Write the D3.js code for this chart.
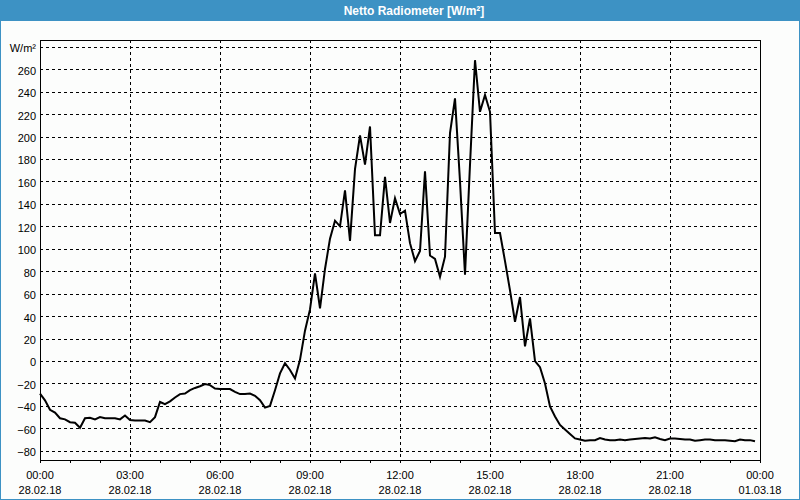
<!DOCTYPE html>
<html>
<head>
<meta charset="utf-8">
<script src="https://cdn.jsdelivr.net/npm/d3@7"></script>
<style>
  html, body { margin: 0; padding: 0; background: #fcfdfc; }
  svg { display: block; }
  text { font-family: "Liberation Sans", Arial, sans-serif; }
</style>
</head>
<body>
<svg id="chart" width="800" height="500"></svg>
<script>
// ---- data (10-minute samples, 28.02.18 00:00 .. 23:50) ----
const title = "Netto Radiometer [W/m²]";
const unitLabel = "W/m²";
const startTime = "2018-02-28T00:00:00";
const endTime = "2018-03-01T00:00:00";
const stepMinutes = 10;
const values = [
  -29, -35, -43.5, -46, -51, -52, -54.5, -55, -59.5, -51,
  -50.5, -52, -50, -51, -51, -51, -52, -48.5, -52.5, -53,
  -53, -53, -54.5, -50, -36.5, -38.5, -36, -32.5, -29.5, -29,
  -26, -24, -22.5, -20.5, -21.5, -24.5, -25, -25, -25, -27.5,
  -29.5, -29.5, -29, -31, -35, -41.5, -40, -26, -11, -2,
  -8, -15.5, 1, 27, 46, 78, 47, 82, 109, 125,
  120, 152, 107, 171, 201, 175, 209, 112, 112, 164,
  123, 145, 131, 134, 105, 89, 98, 169, 94, 91,
  75, 93, 203, 234, 160, 77, 175, 268, 222, 237,
  222, 114, 114, 89, 63, 35, 57, 13, 38, 0,
  -5.5, -20, -40.5, -49.5, -57, -61, -65, -69, -70, -71,
  -70.5, -70.5, -68.6, -70, -70.5, -70.5, -70, -70.5, -70, -69.5,
  -69, -68.7, -69, -68, -69.5, -70.5, -69, -69, -69.5, -70,
  -70, -71, -70.5, -70, -70, -70.5, -70.5, -70.5, -71, -71.5,
  -70, -70.5, -70.5, -71.5
];
const yTicks = [-80, -60, -40, -20, 0, 20, 40, 60, 80, 100, 120, 140, 160, 180, 200, 220, 240, 260, 280];
const xTickLabels = [
  ["00:00", "28.02.18"], ["03:00", "28.02.18"], ["06:00", "28.02.18"],
  ["09:00", "28.02.18"], ["12:00", "28.02.18"], ["15:00", "28.02.18"],
  ["18:00", "28.02.18"], ["21:00", "28.02.18"], ["00:00", "01.03.18"]
];

// ---- layout ----
const W = 800, H = 500;
const plot = { left: 40, top: 40, right: 760, bottom: 460 };
const blue = "#3d92c4";

const svg = d3.select("#chart");
const t0 = new Date(startTime), t1 = new Date(endTime);
const data = values.map((v, i) => ({ t: new Date(t0.getTime() + i * stepMinutes * 60000), v }));

const x = d3.scaleTime().domain([t0, t1]).range([plot.left, plot.right]);
const y = d3.scaleLinear().domain([-88.2, 286]).range([plot.bottom, plot.top]);

// background
svg.append("rect").attr("x", 0).attr("y", 0).attr("width", W).attr("height", H).attr("fill", "#fcfdfc");

// title bar
svg.append("rect").attr("x", 0).attr("y", 0).attr("width", W).attr("height", 21).attr("fill", blue);
svg.append("text").attr("x", 414).attr("y", 15).attr("text-anchor", "middle")
  .attr("fill", "#ffffff").attr("font-weight", "bold").attr("font-size", "12px").text(title);

// window frame
svg.append("rect").attr("x", 0.5).attr("y", 0.5).attr("width", W - 1).attr("height", H - 1)
  .attr("fill", "none").attr("stroke", blue).attr("stroke-width", 1);

// horizontal gridlines
const threeHours = d3.range(1, 8).map(k => d3.timeHour.offset(t0, 3 * k));
const grid = svg.append("g").attr("shape-rendering", "crispEdges");
grid.selectAll("line.h").data(yTicks).join("line")
  .attr("x1", plot.left).attr("x2", plot.right)
  .attr("y1", d => Math.round(y(d)) + 0.5).attr("y2", d => Math.round(y(d)) + 0.5)
  .attr("stroke", "#000").attr("stroke-width", 1).attr("stroke-dasharray", "3,3");
grid.selectAll("line.v").data(threeHours).join("line")
  .attr("x1", d => Math.round(x(d)) + 0.5).attr("x2", d => Math.round(x(d)) + 0.5)
  .attr("y1", plot.top).attr("y2", plot.bottom)
  .attr("stroke", "#000").attr("stroke-width", 1).attr("stroke-dasharray", "3,3");

// y axis labels
const yAxis = d3.axisLeft(y).tickValues(yTicks).tickSize(0).tickPadding(4)
  .tickFormat(d => d === 280 ? unitLabel : d3.format("d")(d));
const gy = svg.append("g").attr("transform", `translate(${plot.left},0)`).call(yAxis);
gy.select(".domain").remove();
gy.selectAll("text").attr("font-size", "11px").attr("fill", "#000")
  .attr("font-family", "'Liberation Sans', Arial, sans-serif").attr("dy", "0.45em");

// x axis: hourly minor ticks
const hours = d3.timeHour.range(t0, d3.timeHour.offset(t1, 1));
const xAxis = d3.axisBottom(x).tickValues(hours).tickSize(3).tickFormat("");
const gx = svg.append("g").attr("transform", `translate(0,${plot.bottom})`).attr("shape-rendering", "crispEdges").call(xAxis);
gx.select(".domain").remove();
gx.selectAll("line").attr("stroke", "#000");

// x labels (two lines)
const labelTimes = d3.range(0, 9).map(k => d3.timeHour.offset(t0, 3 * k));
const xl = svg.append("g").selectAll("g").data(labelTimes).join("g");
xl.append("text").attr("x", d => x(d)).attr("y", 479).attr("text-anchor", "middle")
  .attr("font-size", "11px").attr("fill", "#000").text((d, i) => xTickLabels[i][0]);
xl.append("text").attr("x", d => x(d)).attr("y", 494).attr("text-anchor", "middle")
  .attr("font-size", "11px").attr("fill", "#000").text((d, i) => xTickLabels[i][1]);

// plot frame
svg.append("rect").attr("x", plot.left + 0.5).attr("y", plot.top + 0.5)
  .attr("width", plot.right - plot.left).attr("height", plot.bottom - plot.top)
  .attr("fill", "none").attr("stroke", "#000").attr("stroke-width", 1).attr("shape-rendering", "crispEdges");

// data line
const line = d3.line().x(d => x(d.t)).y(d => y(d.v));
svg.append("path").datum(data).attr("d", line)
  .attr("fill", "none").attr("stroke", "#000").attr("stroke-width", 2).attr("stroke-linejoin", "miter");
</script>
</body>
</html>
